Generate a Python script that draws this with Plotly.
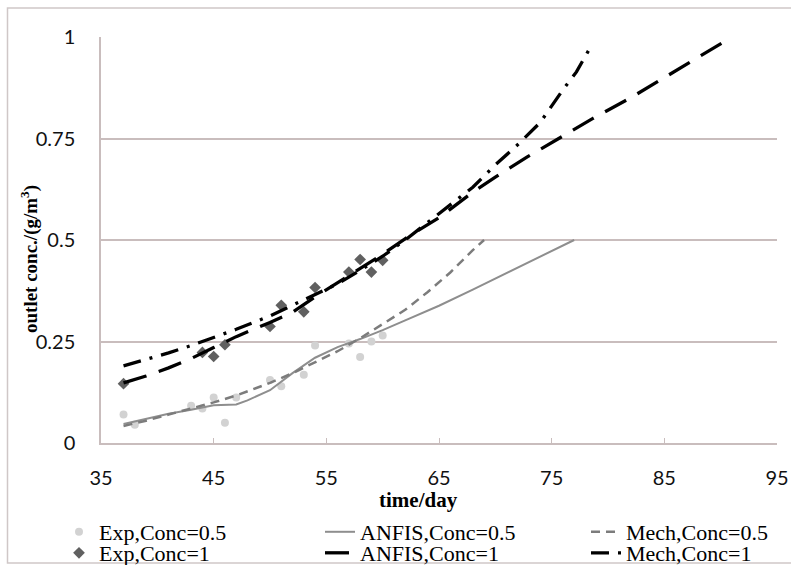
import plotly.graph_objects as go

# ---- data ----
exp05_t = [37, 38, 43, 44, 45, 46, 47, 50, 51, 53, 54, 57, 58, 59, 60]
exp05_v = [0.07, 0.045, 0.092, 0.085, 0.112, 0.05, 0.112, 0.155, 0.14, 0.168, 0.24, 0.245, 0.212, 0.25, 0.265]

exp1_t = [37, 44, 45, 46, 50, 51, 53, 54, 57, 58, 59, 60]
exp1_v = [0.146, 0.223, 0.213, 0.242, 0.287, 0.339, 0.323, 0.383, 0.421, 0.452, 0.421, 0.45]

anfis05_t = [37, 39, 41, 43, 45, 47, 48, 50, 52, 54, 56, 58, 60, 62, 65, 68, 71, 74, 77]
anfis05_v = [0.047, 0.06, 0.072, 0.082, 0.093, 0.095, 0.105, 0.13, 0.172, 0.21, 0.236, 0.256, 0.278, 0.302, 0.338, 0.378, 0.418, 0.46, 0.5]

mech05_t = [37, 39, 41, 43, 45, 47, 50, 52, 54, 56, 58, 60, 62, 64, 66, 68, 69]
mech05_v = [0.042, 0.055, 0.07, 0.085, 0.1, 0.117, 0.148, 0.172, 0.198, 0.226, 0.258, 0.292, 0.328, 0.372, 0.42, 0.475, 0.5]

anfis1_t = [37, 39, 41, 43, 45, 47, 50, 52, 54, 56, 58, 60, 62.2, 65, 68, 70, 72.8, 75, 78.7, 82, 84.9, 88, 91]
anfis1_v = [0.148, 0.165, 0.185, 0.208, 0.235, 0.262, 0.297, 0.322, 0.36, 0.395, 0.43, 0.465, 0.507, 0.555, 0.618, 0.655, 0.704, 0.74, 0.8, 0.85, 0.899, 0.95, 1.0]

mech1_t = [37, 39, 41, 43, 45, 47, 50, 52, 54, 56, 58, 60, 62, 64, 66, 68, 70, 72, 74, 76, 77.2, 78.3]
mech1_v = [0.19, 0.205, 0.222, 0.24, 0.26, 0.28, 0.313, 0.34, 0.365, 0.392, 0.425, 0.46, 0.5, 0.543, 0.585, 0.63, 0.685, 0.735, 0.79, 0.87, 0.914, 0.968]

x_ticks = [35, 45, 55, 65, 75, 85, 95]
y_ticks = [0, 0.25, 0.5, 0.75, 1]
y_tick_labels = ["0", "0.25", "0.5", "0.75", "1"]

# ---- geometry helpers ----
L, R, T, B = 101, 14, 37, 122
W, H = 791, 565
PW, PH = W - L - R, H - T - B


def px(xp):
    return (xp - L) / PW


def py(yp):
    return (H - B - yp) / PH


def cx(xp):
    return xp / W


def cy(yp):
    return 1 - yp / H


fig = go.Figure()

fig.add_trace(go.Scatter(x=exp05_t, y=exp05_v, mode="markers", name="Exp,Conc=0.5",
                         marker=dict(symbol="circle", size=8, color="#d2d2d2"), legend="legend"))
fig.add_trace(go.Scatter(x=exp1_t, y=exp1_v, mode="markers", name="Exp,Conc=1",
                         marker=dict(symbol="diamond", size=9, color="#606060"), legend="legend2"))
fig.add_trace(go.Scatter(x=anfis05_t, y=anfis05_v, mode="lines", name="ANFIS,Conc=0.5",
                         line=dict(color="#8e8e8e", width=2), legend="legend3"))
fig.add_trace(go.Scatter(x=anfis1_t, y=anfis1_v, mode="lines", name="ANFIS,Conc=1",
                         line=dict(color="#000000", width=3.3, dash="24px,13px"), legend="legend4"))
fig.add_trace(go.Scatter(x=mech05_t, y=mech05_v, mode="lines", name="Mech,Conc=0.5",
                         line=dict(color="#7c7c7c", width=2.5, dash="9px,6px"), legend="legend5"))
fig.add_trace(go.Scatter(x=mech1_t, y=mech1_v, mode="lines", name="Mech,Conc=1",
                         line=dict(color="#000000", width=3.3, dash="18px,9px,3px,9px"), legend="legend6"))

legend_font = dict(family="Liberation Serif, Times New Roman, serif", size=22, color="#000")
row1, row2 = 532, 553
col1_text, col2_text, col3_text = 101, 362, 628
legend_pos = {
    "legend": (col1_text - 42, row1),
    "legend2": (col1_text - 42, row2),
    "legend3": (col2_text - 42, row1),
    "legend4": (col2_text - 42, row2),
    "legend5": (col3_text - 42, row1),
    "legend6": (col3_text - 42, row2),
}
legend_layout = {}
for k, (lx, ly) in legend_pos.items():
    legend_layout[k] = dict(x=cx(lx), y=cy(ly), xref="container", yref="container",
                            xanchor="left", yanchor="middle",
                            font=legend_font, bgcolor="rgba(0,0,0,0)", borderwidth=0,
                            tracegroupgap=0)

grid_col = "#c9bdbd"
fig.update_layout(
    width=W, height=H,
    margin=dict(l=L, r=R, t=T, b=B, autoexpand=False),
    paper_bgcolor="white", plot_bgcolor="white",
    showlegend=True,
    **legend_layout,
    xaxis=dict(range=[35, 95], tickvals=x_ticks, ticktext=[str(v) for v in x_ticks],
               showgrid=False, zeroline=False, showline=True, linecolor=grid_col, linewidth=1.5,
               ticks="inside", ticklen=5, tickcolor=grid_col, tickwidth=1.2,
               tickfont=dict(family="Lato, Calibri, sans-serif", size=20, color="#111"),
               ticklabelstandoff=16),
    yaxis=dict(range=[0, 1], tickvals=y_ticks, ticktext=y_tick_labels,
               showgrid=True, gridcolor=grid_col, gridwidth=1.5, zeroline=False,
               showline=True, linecolor=grid_col, linewidth=1.5, ticks="",
               tickfont=dict(family="Lato, Calibri, sans-serif", size=20, color="#111"),
               ticklabelstandoff=20),
    annotations=[
        dict(text="<b>time/day</b>", x=px(418), y=py(500), xref="paper", yref="paper",
             xanchor="center", yanchor="middle", showarrow=False,
             font=dict(family="Liberation Serif, Times New Roman, serif", size=21, color="#000")),
        dict(text="<b>outlet conc./(g/m<sup>3</sup>)</b>", x=px(29), y=py(259), xref="paper", yref="paper",
             xanchor="center", yanchor="middle", showarrow=False, textangle=-90,
             font=dict(family="Liberation Serif, Times New Roman, serif", size=19, color="#000")),
    ],
    shapes=[
        dict(type="rect", xref="paper", yref="paper", x0=px(7.5), x1=px(800), y0=py(563), y1=py(8),
             line=dict(color="#cfc7c7", width=1.5), layer="below"),
    ],
)

fig.write_html("out.html")
